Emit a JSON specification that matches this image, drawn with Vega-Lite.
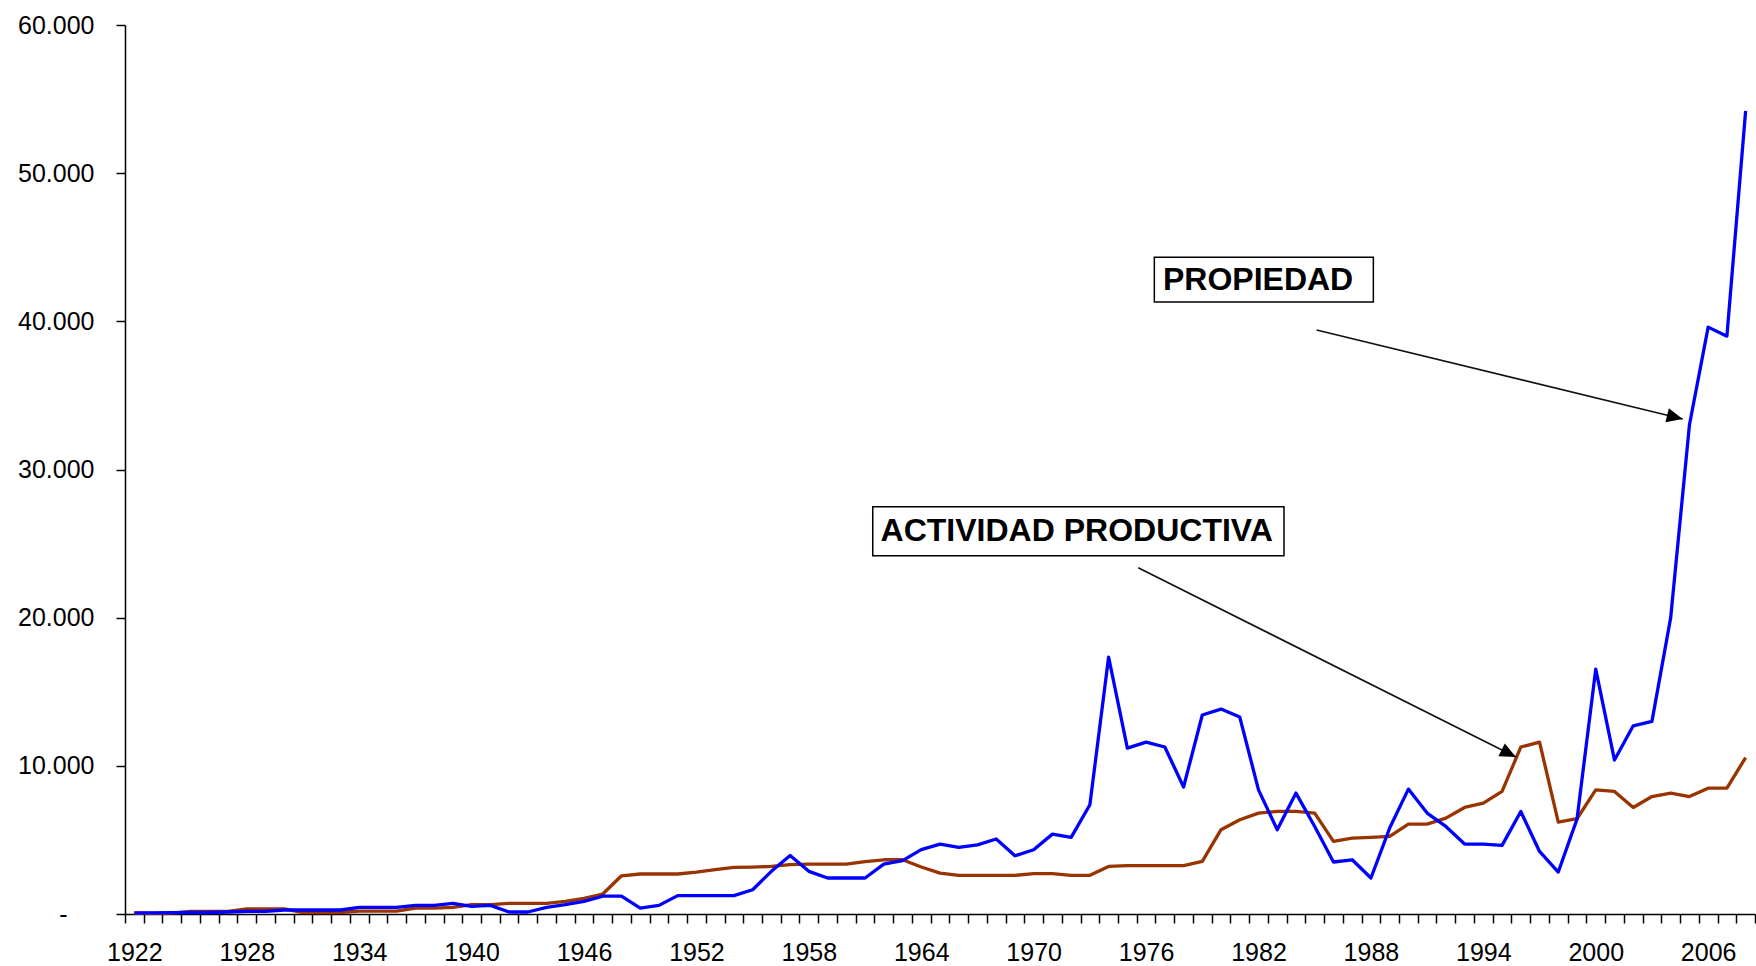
{
  "$schema": "https://vega.github.io/schema/vega-lite/v6.json",
  "autosize": {"type": "none"},
  "padding": {"left": 125, "top": 25, "right": 1, "bottom": 52},
  "width": 1630,
  "height": 889,
  "background": "white",
  "config": {"view": {"stroke": null}, "axis": {"labelOverlap": false, "grid": false, "title": null}},
  "datasets": {
    "series": [
      {"year": 1922, "propiedad": 70, "actividad": 50},
      {"year": 1923, "propiedad": 80, "actividad": 50},
      {"year": 1924, "propiedad": 90, "actividad": 60},
      {"year": 1925, "propiedad": 100, "actividad": 180},
      {"year": 1926, "propiedad": 100, "actividad": 180},
      {"year": 1927, "propiedad": 135, "actividad": 180},
      {"year": 1928, "propiedad": 180, "actividad": 340},
      {"year": 1929, "propiedad": 180, "actividad": 340},
      {"year": 1930, "propiedad": 270, "actividad": 340},
      {"year": 1931, "propiedad": 270, "actividad": 100},
      {"year": 1932, "propiedad": 270, "actividad": 100},
      {"year": 1933, "propiedad": 270, "actividad": 100},
      {"year": 1934, "propiedad": 450, "actividad": 200},
      {"year": 1935, "propiedad": 450, "actividad": 200},
      {"year": 1936, "propiedad": 450, "actividad": 200},
      {"year": 1937, "propiedad": 585, "actividad": 400},
      {"year": 1938, "propiedad": 585, "actividad": 400},
      {"year": 1939, "propiedad": 720, "actividad": 450},
      {"year": 1940, "propiedad": 520, "actividad": 630},
      {"year": 1941, "propiedad": 585, "actividad": 630},
      {"year": 1942, "propiedad": 135, "actividad": 720},
      {"year": 1943, "propiedad": 135, "actividad": 720},
      {"year": 1944, "propiedad": 450, "actividad": 720},
      {"year": 1945, "propiedad": 630, "actividad": 855},
      {"year": 1946, "propiedad": 850, "actividad": 1050},
      {"year": 1947, "propiedad": 1200, "actividad": 1350},
      {"year": 1948, "propiedad": 1200, "actividad": 2580},
      {"year": 1949, "propiedad": 400, "actividad": 2700},
      {"year": 1950, "propiedad": 580, "actividad": 2700},
      {"year": 1951, "propiedad": 1240, "actividad": 2700},
      {"year": 1952, "propiedad": 1240, "actividad": 2830},
      {"year": 1953, "propiedad": 1240, "actividad": 2990},
      {"year": 1954, "propiedad": 1240, "actividad": 3150},
      {"year": 1955, "propiedad": 1640, "actividad": 3170},
      {"year": 1956, "propiedad": 2880, "actividad": 3210},
      {"year": 1957, "propiedad": 3950, "actividad": 3330},
      {"year": 1958, "propiedad": 2880, "actividad": 3370},
      {"year": 1959, "propiedad": 2430, "actividad": 3370},
      {"year": 1960, "propiedad": 2430, "actividad": 3370},
      {"year": 1961, "propiedad": 2430, "actividad": 3530},
      {"year": 1962, "propiedad": 3370, "actividad": 3660},
      {"year": 1963, "propiedad": 3600, "actividad": 3660},
      {"year": 1964, "propiedad": 4340, "actividad": 3170},
      {"year": 1965, "propiedad": 4720, "actividad": 2760},
      {"year": 1966, "propiedad": 4490, "actividad": 2610},
      {"year": 1967, "propiedad": 4670, "actividad": 2610},
      {"year": 1968, "propiedad": 5060, "actividad": 2610},
      {"year": 1969, "propiedad": 3930, "actividad": 2610},
      {"year": 1970, "propiedad": 4340, "actividad": 2720},
      {"year": 1971, "propiedad": 5390, "actividad": 2720},
      {"year": 1972, "propiedad": 5170, "actividad": 2610},
      {"year": 1973, "propiedad": 7370, "actividad": 2610},
      {"year": 1974, "propiedad": 17340, "actividad": 3210},
      {"year": 1975, "propiedad": 11200, "actividad": 3260},
      {"year": 1976, "propiedad": 11600, "actividad": 3260},
      {"year": 1977, "propiedad": 11270, "actividad": 3260},
      {"year": 1978, "propiedad": 8570, "actividad": 3260},
      {"year": 1979, "propiedad": 13430, "actividad": 3550},
      {"year": 1980, "propiedad": 13830, "actividad": 5690},
      {"year": 1981, "propiedad": 13290, "actividad": 6360},
      {"year": 1982, "propiedad": 8380, "actividad": 6810},
      {"year": 1983, "propiedad": 5690, "actividad": 6920},
      {"year": 1984, "propiedad": 8160, "actividad": 6920},
      {"year": 1985, "propiedad": 5910, "actividad": 6810},
      {"year": 1986, "propiedad": 3510, "actividad": 4900},
      {"year": 1987, "propiedad": 3660, "actividad": 5120},
      {"year": 1988, "propiedad": 2430, "actividad": 5170},
      {"year": 1989, "propiedad": 5800, "actividad": 5240},
      {"year": 1990, "propiedad": 8430, "actividad": 6070},
      {"year": 1991, "propiedad": 6810, "actividad": 6070},
      {"year": 1992, "propiedad": 5910, "actividad": 6470},
      {"year": 1993, "propiedad": 4720, "actividad": 7190},
      {"year": 1994, "propiedad": 4720, "actividad": 7480},
      {"year": 1995, "propiedad": 4630, "actividad": 8270},
      {"year": 1996, "propiedad": 6920, "actividad": 11270},
      {"year": 1997, "propiedad": 4220, "actividad": 11600},
      {"year": 1998, "propiedad": 2830, "actividad": 6200},
      {"year": 1999, "propiedad": 6400, "actividad": 6430},
      {"year": 2000, "propiedad": 16530, "actividad": 8380},
      {"year": 2001, "propiedad": 10390, "actividad": 8270},
      {"year": 2002, "propiedad": 12700, "actividad": 7190},
      {"year": 2003, "propiedad": 13000, "actividad": 7930},
      {"year": 2004, "propiedad": 20000, "actividad": 8160},
      {"year": 2005, "propiedad": 33000, "actividad": 7930},
      {"year": 2006, "propiedad": 39610, "actividad": 8490},
      {"year": 2007, "propiedad": 39000, "actividad": 8490},
      {"year": 2008, "propiedad": 54200, "actividad": 10560}
    ],
    "notes": [
      {"label": "PROPIEDAD", "bx1": 1976.44, "bx2": 1988.13, "by1": 44321, "by2": 41304, "tx": 1976.9, "ty": 42114, "ax1": 1985.1, "ay1": 39414, "ax2": 2004.64, "ay2": 33408},
      {"label": "ACTIVIDAD PRODUCTIVA", "bx1": 1961.41, "bx2": 1983.36, "by1": 27489, "by2": 24182, "tx": 1961.83, "ty": 25194, "ax1": 1975.58, "ay1": 23372, "ax2": 1995.74, "ay2": 10596}
    ]
  },
  "layer": [
    {
      "data": {"name": "series"},
      "mark": {"type": "line", "color": "#993300", "strokeWidth": 3.3, "strokeJoin": "round"},
      "encoding": {
        "x": {
          "field": "year", "type": "quantitative",
          "scale": {"domain": [1921.5, 2008.5], "nice": false, "zero": false},
          "axis": {
            "title": null, "grid": false,
            "tickCount": 500,
            "values": [1921.5,1922.5,1923.5,1924.5,1925.5,1926.5,1927.5,1928.5,1929.5,1930.5,1931.5,1932.5,1933.5,1934.5,1935.5,1936.5,1937.5,1938.5,1939.5,1940.5,1941.5,1942.5,1943.5,1944.5,1945.5,1946.5,1947.5,1948.5,1949.5,1950.5,1951.5,1952.5,1953.5,1954.5,1955.5,1956.5,1957.5,1958.5,1959.5,1960.5,1961.5,1962.5,1963.5,1964.5,1965.5,1966.5,1967.5,1968.5,1969.5,1970.5,1971.5,1972.5,1973.5,1974.5,1975.5,1976.5,1977.5,1978.5,1979.5,1980.5,1981.5,1982.5,1983.5,1984.5,1985.5,1986.5,1987.5,1988.5,1989.5,1990.5,1991.5,1992.5,1993.5,1994.5,1995.5,1996.5,1997.5,1998.5,1999.5,2000.5,2001.5,2002.5,2003.5,2004.5,2005.5,2006.5,2007.5,2008.5],
            "labelExpr": "(datum.value - 1921.5) % 6 == 0 ? format(datum.value + 0.5, 'd') : ''",
            "labelOffset": 9.37,
            "labelOverlap": false, "labelFlush": false, "labelBound": false,
            "labelFont": "Liberation Sans", "labelFontSize": 25, "labelColor": "#000",
            "labelPadding": 17,
            "tickSize": 9, "tickWidth": 1.5, "tickColor": "#000",
            "domainColor": "#000", "domainWidth": 1.5
          }
        },
        "y": {
          "field": "actividad", "type": "quantitative",
          "scale": {"domain": [0, 60000], "nice": false, "zero": true},
          "axis": {
            "title": null, "grid": false,
            "values": [0, 10000, 20000, 30000, 40000, 50000, 60000],
            "labelExpr": "datum.value == 0 ? '-' : format(datum.value / 1000, 'd') + '.000'",
            "labelFont": "Liberation Sans", "labelFontSize": 25, "labelColor": "#000",
            "labelPadding": {"condition": {"test": "datum.value == 0", "value": 49}, "value": 22},
            "labelFlush": false, "labelOverlap": false,
            "tickSize": 9, "tickWidth": 1.5, "tickColor": "#000",
            "domainColor": "#000", "domainWidth": 1.5
          }
        }
      }
    },
    {
      "data": {"name": "series"},
      "mark": {"type": "line", "color": "#0000FF", "strokeWidth": 3.3, "strokeJoin": "round"},
      "encoding": {
        "x": {"field": "year", "type": "quantitative"},
        "y": {"field": "propiedad", "type": "quantitative"}
      }
    },
    {
      "data": {"name": "notes"},
      "mark": {"type": "rect", "fill": "white", "stroke": "#000", "strokeWidth": 1.5},
      "encoding": {
        "x": {"field": "bx1", "type": "quantitative"},
        "x2": {"field": "bx2"},
        "y": {"field": "by1", "type": "quantitative"},
        "y2": {"field": "by2"}
      }
    },
    {
      "data": {"name": "notes"},
      "mark": {"type": "text", "align": "left", "baseline": "alphabetic", "font": "Liberation Sans", "fontWeight": "bold", "fontSize": 32, "color": "#000"},
      "encoding": {
        "x": {"field": "tx", "type": "quantitative"},
        "y": {"field": "ty", "type": "quantitative"},
        "text": {"field": "label"}
      }
    },
    {
      "data": {"name": "notes"},
      "mark": {"type": "rule", "color": "#111", "strokeWidth": 1.6},
      "encoding": {
        "x": {"field": "ax1", "type": "quantitative"},
        "x2": {"field": "ax2"},
        "y": {"field": "ay1", "type": "quantitative"},
        "y2": {"field": "ay2"}
      }
    },
    {
      "data": {"name": "notes"},
      "transform": [{"filter": "datum.label == 'PROPIEDAD'"}],
      "mark": {"type": "point", "shape": "M0,0L-1,-0.45L-1,0.45Z", "size": 1024, "filled": true, "color": "#000", "opacity": 1, "angle": 13.7},
      "encoding": {
        "x": {"field": "ax2", "type": "quantitative"},
        "y": {"field": "ay2", "type": "quantitative"}
      }
    },
    {
      "data": {"name": "notes"},
      "transform": [{"filter": "datum.label == 'ACTIVIDAD PRODUCTIVA'"}],
      "mark": {"type": "point", "shape": "M0,0L-1,-0.45L-1,0.45Z", "size": 1024, "filled": true, "color": "#000", "opacity": 1, "angle": 26.6},
      "encoding": {
        "x": {"field": "ax2", "type": "quantitative"},
        "y": {"field": "ay2", "type": "quantitative"}
      }
    }
  ]
}
